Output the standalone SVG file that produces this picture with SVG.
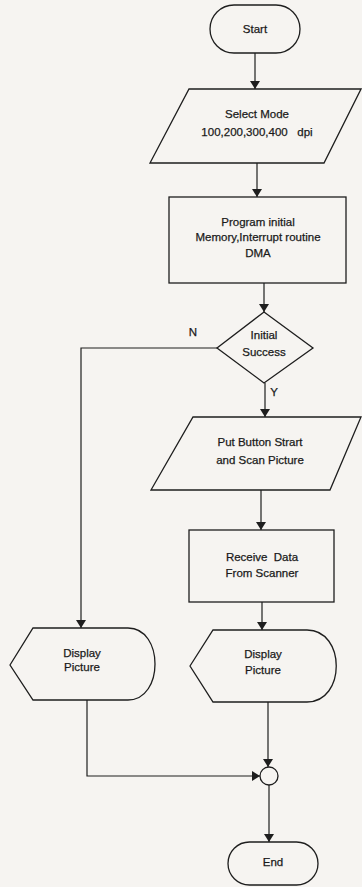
<svg xmlns="http://www.w3.org/2000/svg" width="362" height="887" viewBox="0 0 362 887">
<defs>
<marker id="ah" viewBox="0 0 8 10" refX="8" refY="5" markerWidth="8" markerHeight="10" markerUnits="userSpaceOnUse" orient="auto">
<path d="M0,0 L8,5 L0,10 Z" fill="#1e1e1e"/>
</marker>
</defs>
<style>
.s{fill:none;stroke:#1e1e1e;stroke-width:1.3}
.c{fill:none;stroke:#1e1e1e;stroke-width:1.2;marker-end:url(#ah)}
text{font-family:"Liberation Sans",Arial,sans-serif;font-size:11.5px;fill:#1a1a1a;text-anchor:middle;stroke:#1a1a1a;stroke-width:0.25;white-space:pre}
</style>
<rect width="362" height="887" fill="#f6f4f1"/>
<g id="connectors">
<line class="c" x1="255" y1="53" x2="255" y2="89"/>
<line class="c" x1="257" y1="163" x2="257" y2="197"/>
<line class="c" x1="264" y1="283" x2="264" y2="312"/>
<polyline class="c" points="217,348 81,348 81,628"/>
<line class="c" x1="265" y1="383" x2="265" y2="417"/>
<line class="c" x1="261" y1="490" x2="261" y2="530"/>
<line class="c" x1="262" y1="602" x2="262" y2="630"/>
<polyline class="c" points="87,700 87,776 260,776"/>
<line class="c" x1="268" y1="702" x2="268" y2="767"/>
<line class="c" x1="269" y1="785" x2="269" y2="842"/>
<text x="193" y="336">N</text>
<text x="274" y="396">Y</text>
</g>
<g id="start">
<rect class="s" x="210" y="5" width="90" height="48" rx="24"/>
<text x="255" y="33">Start</text>
</g>
<g id="select-mode">
<polygon class="s" points="189,89 361,89 324,163 150,163"/>
<text x="257" y="118">Select Mode</text>
<text x="257" y="136" xml:space="preserve">100,200,300,400   dpi</text>
</g>
<g id="program-initial">
<rect class="s" x="169" y="197" width="177" height="86"/>
<text x="258" y="226">Program initial</text>
<text x="258" y="241">Memory,Interrupt routine</text>
<text x="258" y="257">DMA</text>
</g>
<g id="initial-success">
<polygon class="s" points="264,312 313,348 264,383 217,348"/>
<text x="264" y="339">Initial</text>
<text x="264" y="356">Success</text>
</g>
<g id="put-button">
<polygon class="s" points="193,417 361,417 330,490 151,490"/>
<text x="260" y="446">Put Button Strart</text>
<text x="260" y="464">and Scan Picture</text>
</g>
<g id="receive-data">
<rect class="s" x="189" y="530" width="145" height="72"/>
<text x="262" y="561" xml:space="preserve">Receive  Data</text>
<text x="262" y="577">From Scanner</text>
</g>
<g id="display-left">
<path class="s" d="M10,665 L33,628 L128,628 C164,628 164,700 128,700 L33,700 Z"/>
<text x="82" y="657">Display</text>
<text x="82" y="671">Picture</text>
</g>
<g id="display-right">
<path class="s" d="M190,666 L213,630 L307,630 C346,630 346,702 307,702 L213,702 Z"/>
<text x="263" y="658">Display</text>
<text x="263" y="674">Picture</text>
</g>
<g id="join">
<circle class="s" cx="269" cy="776" r="9"/>
</g>
<g id="end">
<rect class="s" x="228" y="842" width="90" height="43" rx="21.5"/>
<text x="273" y="866">End</text>
</g>
</svg>
